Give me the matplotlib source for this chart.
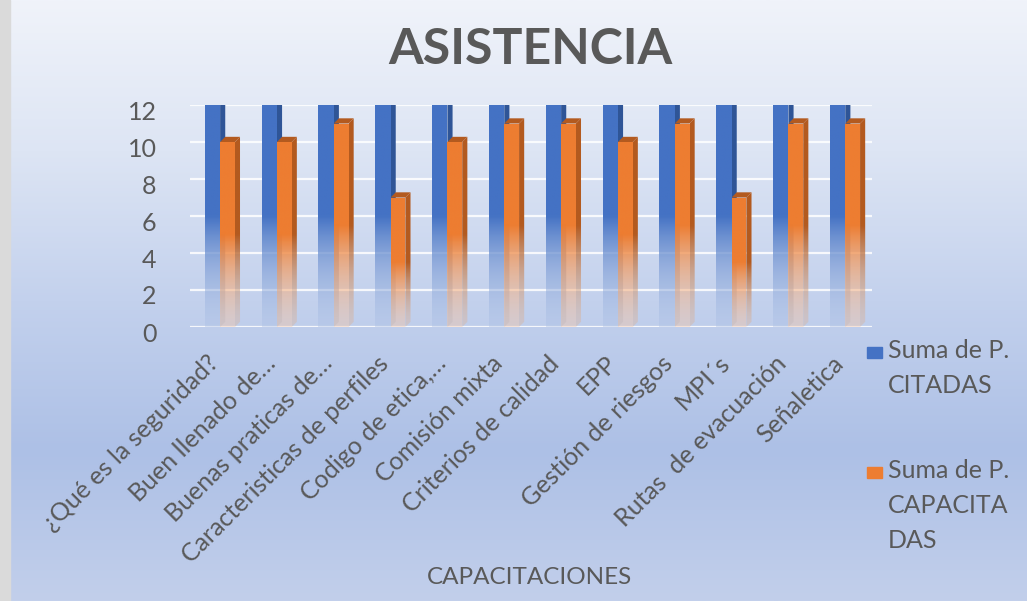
import matplotlib
matplotlib.use("Agg")
import matplotlib.pyplot as plt
import numpy as np
from matplotlib.colors import to_rgb, LinearSegmentedColormap
from matplotlib.patches import Polygon, Rectangle
from matplotlib.transforms import ScaledTranslation

plt.rcParams['font.family'] = ['Lato', 'DejaVu Sans']

# datos
categorias = ['¿Qué es la seguridad?', 'Buen llenado de…', 'Buenas praticas de…',
              'Caracteristicas de perfiles', 'Codigo de etica,…', 'Comisión mixta',
              'Criterios de calidad', 'EPP', 'Gestión de riesgos', 'MPI´s',
              'Rutas  de evacuación', 'Señaletica']
citadas = [12, 12, 12, 12, 12, 12, 12, 12, 12, 12, 12, 12]
capacitadas = [10, 10, 11, 7, 10, 11, 11, 10, 11, 7, 11, 11]
series = ['Suma de P.\nCITADAS', 'Suma de P.\nCAPACITA\nDAS']

azul, azul_osc = '#4472C4', '#2F5597'
naranja, naranja_osc = '#ED7D31', '#B35A1F'
gris = '#595959'

W, H = 1027, 601
fig = plt.figure(figsize=(W / 100, H / 100), dpi=100)

# fondo degradado
bg = fig.add_axes([0, 0, 1, 1], zorder=-10)
cmap_bg = LinearSegmentedColormap.from_list('bg', [(0, '#c2cfeb'), (0.25, '#adc0e6'),
                                                   (0.5, '#c3d1ed'), (0.75, '#dde5f4'),
                                                   (1, '#f0f3fa')])
bg.imshow(np.linspace(0, 1, 256)[:, None], cmap=cmap_bg, aspect='auto', origin='lower',
          extent=(0, 1, 0, 1))
bg.add_patch(Rectangle((0, 0), 10 / W, 1, color='#dadada'))
bg.set_xlim(0, 1)
bg.set_ylim(0, 1)
bg.axis('off')

ax = fig.add_axes([190 / W, 274 / H, 682 / W, 222 / H])
ax.set_facecolor('none')


def cara(verts, color, h, z):
    # poligono con degradado vertical (solido arriba, claro abajo)
    poly = Polygon(verts, closed=True, facecolor='none', edgecolor='none')
    ax.add_patch(poly)
    xs = [v[0] for v in verts]
    ys = [v[1] for v in verts]
    n = 200
    yy = np.linspace(min(ys), max(ys), n)
    t = np.clip(yy / (h * 0.5), 0, 1)
    t = t ** 1.3
    rgb = np.array(to_rgb(color))
    claro = rgb * 0.45 + np.array([1, 1, 1]) * 0.55
    img = np.zeros((n, 1, 4))
    img[:, 0, :3] = claro[None, :] * (1 - t[:, None]) + rgb[None, :] * t[:, None]
    img[:, 0, 3] = 0.4 + 0.6 * t
    im = ax.imshow(img, extent=(min(xs), max(xs), min(ys), max(ys)), origin='lower',
                   aspect='auto', zorder=z, interpolation='bilinear')
    im.set_clip_path(poly)


def barra3d(x0, x1, h, c, c_osc, z):
    dx, dy = 0.09, 0.28
    cara([(x1, 0), (x1 + dx, dy), (x1 + dx, h + dy), (x1, h)], c_osc, h, z)
    cara([(x0, 0), (x1, 0), (x1, h), (x0, h)], c, h, z + 0.1)
    ax.add_patch(Polygon([(x0, h), (x1, h), (x1 + dx, h + dy), (x0 + dx, h + dy)],
                         closed=True, facecolor=c_osc, edgecolor='none', zorder=z + 0.2))


for i in range(len(categorias)):
    barra3d(i - 0.24, i + 0.03, citadas[i], azul, azul_osc, 3)
    barra3d(i + 0.03, i + 0.29, capacitadas[i], naranja, naranja_osc, 4)

for y in range(0, 13, 2):
    ax.axhline(y, color='white', lw=1.6, alpha=0.85, zorder=1)

ax.set_xlim(-0.5, 11.5)
ax.set_ylim(0, 12)
ax.set_yticks(range(0, 13, 2))
ax.set_xticks(range(len(categorias)))
ax.set_xticklabels(categorias, rotation=45, ha='right', rotation_mode='anchor')
ax.tick_params(length=0, labelsize=18, labelcolor=gris)
ax.tick_params(axis='y', pad=24)
ax.tick_params(axis='x', pad=14)
for lab in ax.get_yticklabels():
    lab.set_transform(lab.get_transform() + ScaledTranslation(0, -0.05, fig.dpi_scale_trans))
for lab in ax.get_xticklabels():
    lab.set_transform(lab.get_transform() + ScaledTranslation(-0.12, -0.05, fig.dpi_scale_trans))
for s in ax.spines.values():
    s.set_visible(False)

fig.text(530 / W, 1 - 50 / H, 'ASISTENCIA', ha='center', va='center', fontsize=36,
         fontweight='bold', color=gris)
fig.text(530 / W, 1 - 578 / H, 'CAPACITACIONES', ha='center', va='center',
         fontsize=17.5, color=gris)

# leyenda
for col, lab, y in [(azul, series[0], 352), (naranja, series[1], 472)]:
    fig.add_artist(Rectangle((867 / W, 1 - (y + 6) / H), 15 / W, 11 / H, color=col,
                             transform=fig.transFigure))
    for k, linea in enumerate(lab.split('\n')):
        fig.text(888 / W, 1 - (y + 6 + 35 * k) / H, linea, ha='left', va='baseline',
                 fontsize=18, color=gris)

fig.savefig('out.png', dpi=100)
